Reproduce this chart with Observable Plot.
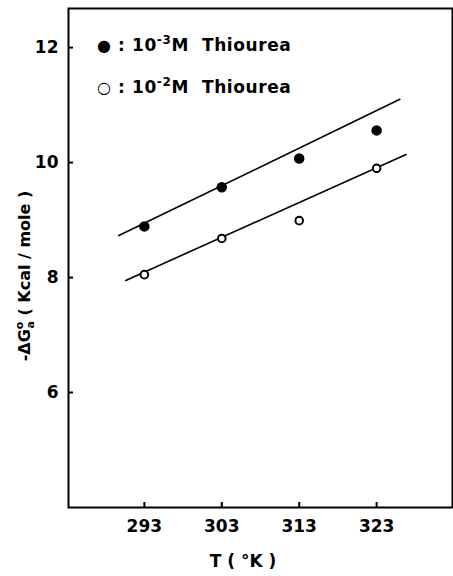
<!DOCTYPE html>
<html><head><meta charset="utf-8">
<script src="https://cdn.jsdelivr.net/npm/d3@7"></script>
<script src="https://cdn.jsdelivr.net/npm/@observablehq/plot@0.6"></script>
<style>
html,body{margin:0;padding:0;background:#fff;}
#wrap{position:relative;width:453px;height:576px;font-family:"DejaVu Sans",sans-serif;font-weight:bold;color:#000;}
.lg{position:absolute;font-size:17px;white-space:nowrap;line-height:20px;letter-spacing:0.6px;}
.lg sup{font-size:12px;}
#ylab{position:absolute;left:25px;top:276px;transform:translate(-50%,-50%) rotate(-90deg);font-size:16px;white-space:nowrap;}
#xlab{position:absolute;left:243px;top:561px;transform:translate(-50%,-50%);font-size:17px;white-space:nowrap;}
</style>
</head><body>
<div id="wrap"></div>
<script>
const temps = [293, 303, 313, 323];
const filled = [8.89, 9.57, 10.07, 10.56];   // 1e-3 M Thiourea
const hollow = [8.05, 8.68, 8.99, 9.90];     // 1e-2 M Thiourea
const fitUpperT = [289.7, 326.0];
const fitUpperG = [8.73, 11.10];
const fitLowerT = [290.6, 326.8];
const fitLowerG = [7.95, 10.14];
const xTicks = [293, 303, 313, 323];
const yTicks = [6, 8, 10, 12];

const ptsF = temps.map((t, i) => ({t, g: filled[i]}));
const ptsO = temps.map((t, i) => ({t, g: hollow[i]}));
const lineU = fitUpperT.map((t, i) => ({t, g: fitUpperG[i]}));
const lineL = fitLowerT.map((t, i) => ({t, g: fitLowerG[i]}));

const chart = Plot.plot({
  width: 453, height: 576,
  marginLeft: 68, marginRight: 1, marginTop: 8, marginBottom: 69,
  style: {fontFamily: "DejaVu Sans, sans-serif", fontWeight: "bold", fontSize: "17px", color: "#000", background: "#fff"},
  x: {domain: [283.2, 332.8]},
  y: {domain: [4, 12.68]},
  marks: [
    Plot.frame({stroke: "#000", strokeWidth: 2}),
    Plot.axisX({ticks: xTicks, tickSize: -5, tickPadding: 17, label: null, tickFormat: d => String(d), strokeWidth: 2}),
    Plot.axisY({ticks: yTicks, tickSize: -5, tickPadding: 15, label: null, tickFormat: d => String(d), strokeWidth: 2}),
    Plot.line(lineU, {x: "t", y: "g", stroke: "#000", strokeWidth: 1.6}),
    Plot.line(lineL, {x: "t", y: "g", stroke: "#000", strokeWidth: 1.6}),
    Plot.dot(ptsF, {x: "t", y: "g", r: 4.5, fill: "#000", stroke: "#000"}),
    Plot.dot(ptsO, {x: "t", y: "g", r: 3.8, fill: "#fff", stroke: "#000", strokeWidth: 2})
  ]
});
const wrap = document.getElementById("wrap");
wrap.appendChild(chart);

const legend = [
  {sym: "●", sup: "-3", top: 30},
  {sym: "○", sup: "-2", top: 72}
];
legend.forEach(l => {
  const d = document.createElement("div");
  d.className = "lg";
  d.style.left = "97px";
  d.style.top = l.top + "px";
  d.innerHTML = `<span style="font-size:16px">${l.sym}</span> : 10<sup>${l.sup}</sup>M&nbsp;&nbsp;Thiourea`;
  wrap.appendChild(d);
});
const yl = document.createElement("div");
yl.id = "ylab";
yl.innerHTML = `-ΔG<span style="position:relative"><sup style="font-size:11px">o</sup><sub style="font-size:11px;margin-left:-7px">a</sub></span> ( Kcal / mole )`;
wrap.appendChild(yl);
const xl = document.createElement("div");
xl.id = "xlab";
xl.textContent = "T ( °K )";
wrap.appendChild(xl);
</script>
</body></html>
